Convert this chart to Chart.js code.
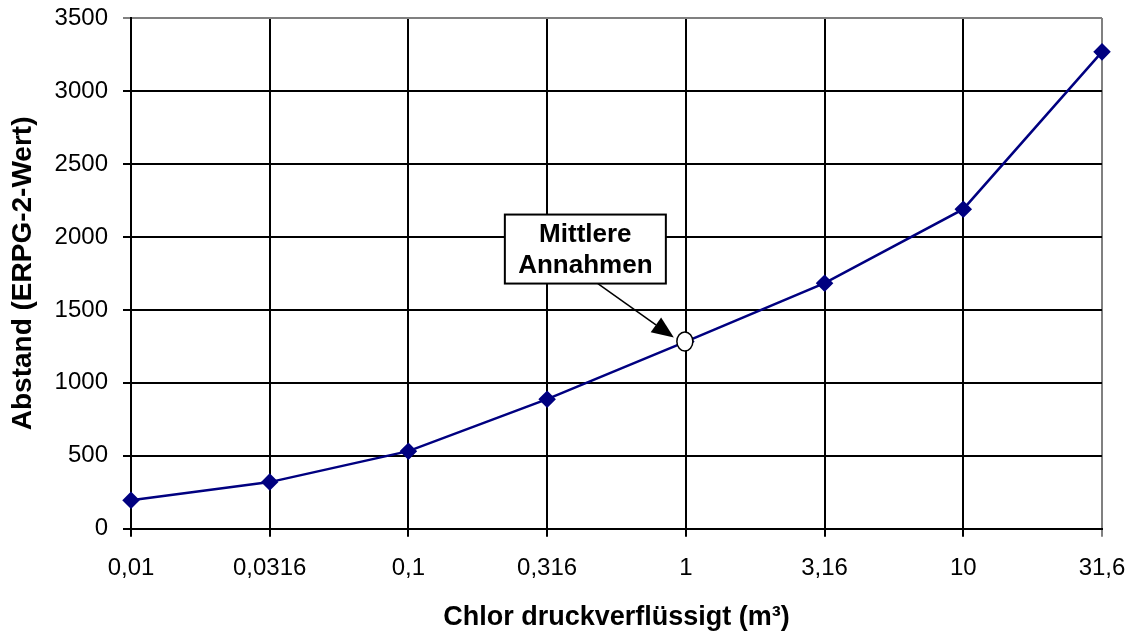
<!DOCTYPE html>
<html>
<head>
<meta charset="utf-8">
<script src="https://cdn.jsdelivr.net/npm/chart.js@4"></script>
<style>
  html, body { margin: 0; padding: 0; background: #fff; }
  #wrap { width: 1132px; height: 637px; }
</style>
</head>
<body>
<div id="wrap"><canvas id="chart" width="1132" height="637"></canvas></div>
<script>
// data
const volumes = ["0,01", "0,0316", "0,1", "0,316", "1", "3,16", "10", "31,6"];
const distances = [195, 320, 532, 888, 1283, 1683, 2190, 3268];
const highlightIndex = 4; // "Mittlere Annahmen"
const noteLines = ["Mittlere", "Annahmen"];

const FONT = "'Liberation Sans', Arial, sans-serif";

// draws the open ellipse on the middle point and the note box with its arrow
const notePlugin = {
  id: "note",
  afterDatasetsDraw(chart) {
    const ctx = chart.ctx;
    const pt = chart.getDatasetMeta(0).data[highlightIndex];
    const px = pt.x, py = pt.y;

    ctx.save();
    // white ellipse over the point
    ctx.beginPath();
    ctx.ellipse(px - 1, py, 8, 9.5, 0, 0, Math.PI * 2);
    ctx.fillStyle = "#fff";
    ctx.fill();
    ctx.lineWidth = 1.5;
    ctx.strokeStyle = "#000";
    ctx.stroke();

    // note box, up-left of the point
    const bx = px - 181, by = py - 127, bw = 161, bh = 69;
    ctx.fillStyle = "#fff";
    ctx.fillRect(bx, by, bw, bh);
    ctx.lineWidth = 2;
    ctx.strokeRect(bx, by, bw, bh);
    ctx.fillStyle = "#000";
    ctx.font = "bold 26px " + FONT;
    ctx.textAlign = "center";
    ctx.textBaseline = "middle";
    ctx.fillText(noteLines[0], bx + bw / 2, by + 20);
    ctx.fillText(noteLines[1], bx + bw / 2, by + 51);

    // arrow
    const x0 = bx + 93, y0 = by + bh;
    const x1 = px - 12, y1 = py - 4;
    const ang = Math.atan2(y1 - y0, x1 - x0);
    const headLen = 22, headW = 9;
    const hx = x1 - headLen * Math.cos(ang), hy = y1 - headLen * Math.sin(ang);
    ctx.beginPath();
    ctx.moveTo(x0, y0);
    ctx.lineTo(hx, hy);
    ctx.lineWidth = 1.5;
    ctx.stroke();
    ctx.beginPath();
    ctx.moveTo(x1, y1);
    ctx.lineTo(hx + headW * Math.sin(ang), hy - headW * Math.cos(ang));
    ctx.lineTo(hx - headW * Math.sin(ang), hy + headW * Math.cos(ang));
    ctx.closePath();
    ctx.fill();
    ctx.restore();
  }
};

const ctx = document.getElementById("chart").getContext("2d");
new Chart(ctx, {
  type: "line",
  data: {
    labels: volumes,
    datasets: [{
      data: distances,
      borderColor: "#000080",
      backgroundColor: "#000080",
      borderWidth: 2.5,
      pointStyle: "rectRot",
      pointRadius: 7,
      pointHoverRadius: 7,
      tension: 0
    }]
  },
  options: {
    responsive: false,
    animation: false,
    layout: { padding: { left: 5, right: 30, top: 18, bottom: 3 } },
    plugins: {
      legend: { display: false },
      tooltip: { enabled: false }
    },
    scales: {
      x: {
        offset: false,
        // edge labels may hang over, layout padding handles it
        afterFit: s => { s.paddingLeft = 0; s.paddingRight = 0; },
        grid: {
          color: c => c.index === volumes.length - 1 ? "#808080" : "#000",
          lineWidth: 2,
          tickLength: 8
        },
        border: { color: "#000", width: 2 },
        ticks: {
          color: "#000",
          font: { family: FONT, size: 24 },
          padding: 17,
          maxRotation: 0,
          autoSkip: false
        },
        title: {
          display: true,
          text: "Chlor druckverflüssigt (m³)",
          color: "#000",
          font: { family: FONT, size: 27, weight: "bold" },
          padding: { top: 2, bottom: 0 }
        }
      },
      y: {
        min: 0,
        max: 3500,
        afterFit: s => { s.paddingTop = 0; s.paddingBottom = 0; },
        grid: {
          color: c => c.tick && c.tick.value === 3500 ? "#808080" : "#000",
          lineWidth: 2,
          tickLength: 8
        },
        border: { color: "#000", width: 2 },
        ticks: {
          stepSize: 500,
          color: "#000",
          font: { family: FONT, size: 24 },
          padding: 15,
          callback: v => String(v)
        },
        title: {
          display: true,
          text: "Abstand (ERPG-2-Wert)",
          color: "#000",
          font: { family: FONT, size: 28, weight: "bold" },
          padding: { top: 1, bottom: 0 }
        }
      }
    }
  },
  plugins: [notePlugin]
});
</script>
</body>
</html>
